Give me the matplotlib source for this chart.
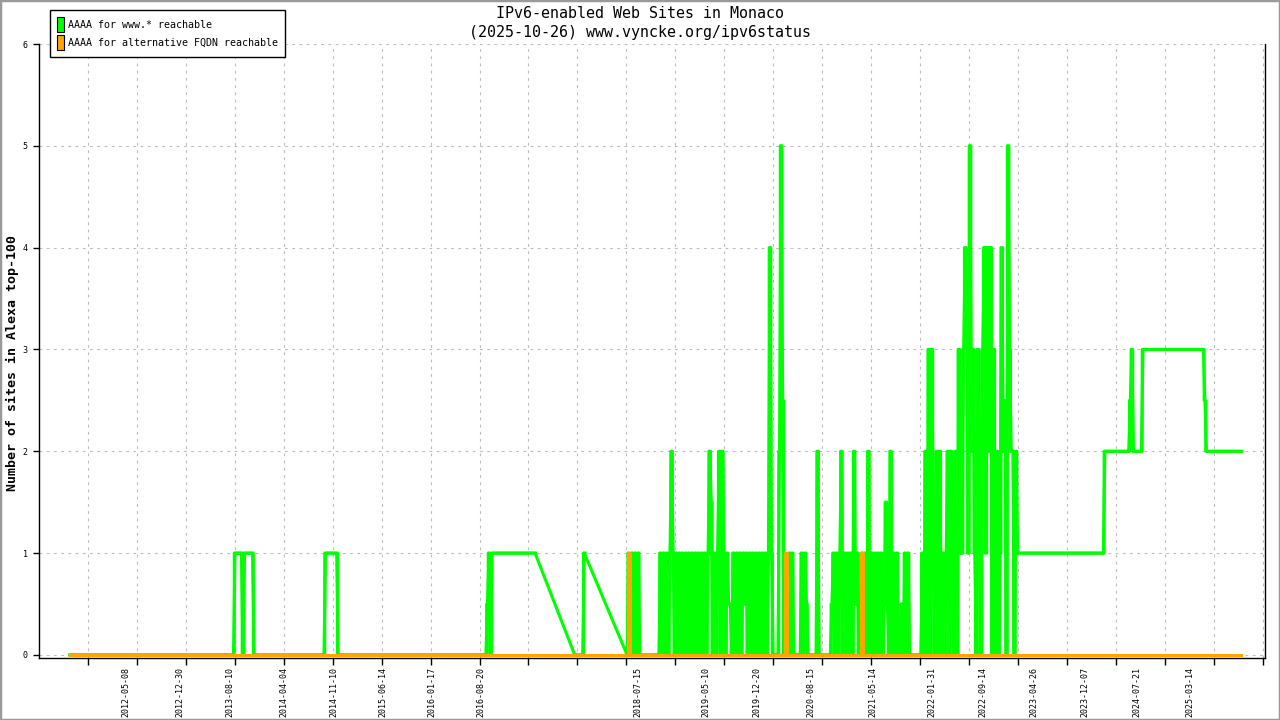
import pandas as pd
import matplotlib.pyplot as plt
from matplotlib.patches import Patch, Rectangle

# one sample per week starting on this day
start_date = "2011-09-04"

# AAAA for www.* reachable, one char per week
# 0-5 = number of sites, a/b/c/d = 0.5/1.5/2.5/3.5, '.' = no sample that week
www_weeks = [
    "0000000000" "0000000000" "0000000000" "0000000000" "0000000000" "00",
    "0000000000" "0000000000" "0000000000" "0000000000" "0000000000" "00",
    "11111" "0" "111111" "0000000000" "0000000000" "0000000000" "0000000000",
    "00000" "11111111" "0000000000" "0000000000" "0000000000" "000000000",
    "0000000000" "0000000000" "0000000000" "0000000000" "0000000000" "00",
    "000a101" "1111111111" "1111111111" "1111111" ".........." "........",
    "......" "000000" "1" ".........." ".........." "......" "0" "10101010" "0000",
    "00000000" "1010101" "210" "101010101010101010101" "2b0101202101a",
    "a0" "10101" "0" "1a10101" "0101010101" "41" "0000" "25c00a" "1010" "0000" "101a" "000",
    "000" "2" "00000000" "a10101" "2" "010101" "02a1" "0010" "1020" "1010101" "0aba02" "01",
    "0100a01010" "0000000" "1020303102" "0201012021" "02031134d1" "52310",
    "3203414240" "3020142c05" "32202" "1111111111" "1111111111" "1111111",
    "1111111111" "1111111111" "11111111" "2222222222" "222222" "c32" "22222",
    "3333333333" "3333333333" "3333333333" "333333333" "c" "2222222222" "22",
    "22222222222",
]

# AAAA for alternative FQDN reachable
fqdn_dates = ["2011-09-04", "2018-05-27", "2018-06-03", "2018-06-10",
              "2020-04-19", "2020-04-26", "2020-05-03",
              "2021-03-21", "2021-03-28", "2021-04-04", "2025-10-26"]
fqdn_values = [0, 0, 1, 0, 0, 1, 0, 0, 1, 0, 0]

tick_labels = ["2012-05-08", "2012-12-30", "2013-08-10", "2014-04-04",
               "2014-11-10", "2015-06-14", "2016-01-17", "2016-08-20",
               "2018-07-15", "2019-05-10", "2019-12-20", "2020-08-15",
               "2021-05-14", "2022-01-31", "2022-09-14", "2023-04-26",
               "2023-12-07", "2024-07-21", "2025-03-14"]

title = "IPv6-enabled Web Sites in Monaco"
subtitle = "(2025-10-26) www.vyncke.org/ipv6status"

# decode the weekly string
halves = {"a": 0.5, "b": 1.5, "c": 2.5, "d": 3.5, ".": None}
chars = "".join(www_weeks)
vals = [halves[c] if c in halves else float(c) for c in chars]
www = pd.Series(vals, index=pd.date_range(start_date, periods=len(chars), freq="7D"),
                dtype=float)
fqdn = pd.Series(fqdn_values, index=pd.to_datetime(fqdn_dates), dtype=float)

mono = "DejaVu Sans Mono"
plt.rcParams["font.family"] = mono
# keep every little up/down of the noisy years
plt.rcParams["path.simplify"] = False

fig = plt.figure(figsize=(12.8, 7.2), dpi=100)
ax = fig.add_axes([38.7 / 1280, 1 - 657.5 / 720, (1265 - 38.7) / 1280, (657.5 - 44) / 720])

green = "#00ff00"
orange = "#ffa500"
# straight line over the samples bridges the gaps without data,
# the step version gives the near vertical day to day jumps
ax.plot(www.dropna().index, www.dropna().values, color=green, lw=2.2, zorder=3)
ax.plot(www.index, www.values, color=green, lw=2.2, drawstyle="steps-mid", zorder=3)
ax.plot(fqdn.index, fqdn.values, color=orange, lw=2.2, drawstyle="steps-mid", zorder=4)

ax.set_xlim(pd.Timestamp("2011-04-19"), pd.Timestamp("2026-02-07"))
ax.set_ylim(-0.025, 6)

# evenly spaced ticks carry the grid, dated labels sit on their own
ax.set_xticks(pd.date_range("2011-11-21", periods=25, freq="216D"))
ax.set_xticklabels([])
ax.set_xticks(pd.to_datetime(tick_labels), minor=True)
ax.set_xticklabels(tick_labels, minor=True, rotation=90, fontsize=6)
ax.tick_params(axis="x", which="major", length=5, width=1, direction="out")
ax.tick_params(axis="x", which="minor", length=0, pad=7)

ax.set_yticks(range(0, 7))
ax.set_yticklabels([str(v) for v in range(0, 7)], fontsize=6)
ax.tick_params(axis="y", length=4, width=1, pad=4)

ax.grid(True, which="major", color="#bdbdbd", lw=0.8, ls=(0, (2.5, 4)))
ax.set_axisbelow(True)
ax.spines["top"].set_visible(False)
for side in ["left", "right", "bottom"]:
    ax.spines[side].set_linewidth(1)

fig.text(12 / 1280, 1 - 363 / 720, "Number of sites in Alexa top-100", rotation=90,
         ha="center", va="center", fontsize=9.5, fontweight="bold")

fig.text(0.5, 1 - 13 / 720, title, ha="center", va="center", fontsize=10.8)
fig.text(0.5, 1 - 32 / 720, subtitle, ha="center", va="center", fontsize=10.8)

handles = [Patch(facecolor=green, edgecolor="black", lw=0.8),
           Patch(facecolor=orange, edgecolor="black", lw=0.8)]
leg = ax.legend(handles, ["AAAA for www.* reachable", "AAAA for alternative FQDN reachable"],
                loc="upper left", bbox_to_anchor=(50 / 1280, 1 - 10 / 720),
                bbox_transform=fig.transFigure, fontsize=7.2, handlelength=0.65,
                handleheight=1.9, handletextpad=0.45, labelspacing=0.3,
                borderpad=0.7, borderaxespad=0, fancybox=False, framealpha=1)
leg.get_frame().set_edgecolor("black")
leg.get_frame().set_linewidth(1)

fig.patches.append(Rectangle((0, 0), 1, 1, transform=fig.transFigure, fill=False,
                             edgecolor="#9a9a9a", lw=2.5))

fig.savefig("out.png", dpi=100)
